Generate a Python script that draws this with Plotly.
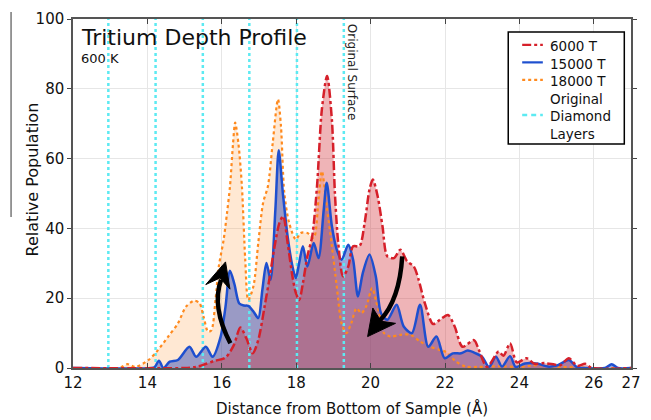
import plotly.graph_objects as go

# ---------------- data ----------------
red_x = [12.0, 15.0, 15.3, 15.53, 15.79, 16.10, 16.32, 16.50, 16.66, 16.83, 16.98, 17.15, 17.29, 17.42,
         17.55, 17.65, 17.77, 17.90, 17.99, 18.08, 18.18, 18.30, 18.43, 18.56, 18.69, 18.83, 18.96,
         19.04, 19.13, 19.26, 19.40, 19.53, 19.70, 19.84, 19.97, 20.06, 20.19, 20.32, 20.45, 20.63,
         20.80, 20.98, 21.16, 21.29, 21.46, 21.68, 21.86, 22.08, 22.26, 22.47, 22.78, 22.91, 23.13,
         23.44, 23.57, 23.75, 23.93, 24.19, 24.41, 24.67, 24.94, 25.10, 25.33, 25.55, 25.77, 25.95, 27.0]
red_y = [0, 0, 0.3, 1.0, 2.0, 3.0, 6.5, 11.6, 8.5, 4.2, 8.0, 17.6, 26.2, 34.9,
         41.6, 43.5, 35.8, 26.2, 21.5, 19.5, 24.3, 32.0, 37.7, 52.1, 74.1, 83.7, 71.0,
         50.2, 35.8, 26.2, 29.1, 34.9, 34.9, 41.6, 51.1, 54.0, 49.2, 40.6, 32.0, 31.5,
         33.9, 30.6, 29.1, 25.3, 18.5, 12.6, 13.8, 15.2, 11.9, 6.1, 8.0, 5.2, 0.3,
         4.7, 3.5, 7.1, 1.6, 2.8, 1.2, 1.4, 1.0, 0.8, 2.8, 0.6, 1.2, 0, 0]

blue_x = [12.0, 14.1, 14.2, 14.31, 14.43, 14.60, 14.82, 15.13, 15.31, 15.57, 15.75, 15.97, 16.10, 16.22,
          16.34, 16.47, 16.60, 16.71, 16.85, 16.98, 17.09, 17.20, 17.31, 17.44, 17.53, 17.64, 17.77,
          17.90, 17.99, 18.08, 18.18, 18.30, 18.47, 18.60, 18.74, 18.82, 18.96, 19.09, 19.22, 19.40,
          19.53, 19.66, 19.79, 19.97, 20.14, 20.28, 20.45, 20.70, 20.89, 21.11, 21.33, 21.55, 21.77,
          21.99, 22.21, 22.43, 22.61, 22.83, 23.00, 23.18, 23.37, 23.53, 23.75, 23.90, 24.15, 24.50,
          24.76, 25.03, 25.33, 25.55, 25.80, 26.30, 26.48, 26.65, 27.0]
blue_y = [0, 0, 0.3, 2.1, 0, 1.8, 2.3, 6.1, 3.2, 6.1, 3.2, 9.0, 17.6, 27.9,
          24.0, 18.5, 17.9, 17.8, 16.2, 14.3, 22.4, 30.1, 25.3, 45.4, 62.4, 50.2, 37.7,
          29.1, 25.8, 30.1, 34.9, 29.1, 35.8, 31.5, 45.4, 53.1, 40.6, 33.9, 31.0, 35.3,
          31.0, 20.5, 27.2, 32.5, 26.2, 15.7, 13.8, 18.1, 11.9, 10.0, 18.1, 6.1, 9.0,
          2.8, 4.2, 4.2, 5.0, 4.2, 3.2, 0.3, 3.2, 0.4, 3.4, 0.3, 1.3, 1.2,
          0.4, 0.8, 2.3, 0.2, 0, 0, 1.1, 0, 0]

orange_x = [12.0, 13.25, 13.46, 13.68, 14.03, 14.25, 14.56, 14.82, 15.04, 15.26, 15.40, 15.51, 15.63,
            15.72, 15.83, 15.92, 16.05, 16.14, 16.22, 16.30, 16.36, 16.45, 16.54, 16.63, 16.71, 16.85,
            16.98, 17.11, 17.24, 17.37, 17.51, 17.59, 17.68, 17.81, 17.99, 18.12, 18.30, 18.47, 18.60,
            18.69, 18.82, 18.96, 19.09, 19.22, 19.35, 19.48, 19.62, 19.75, 19.88, 20.04, 20.14, 20.23,
            20.36, 20.54, 20.80, 21.07, 21.33, 21.60, 21.86, 22.04, 22.30, 22.56, 22.9, 23.5, 24.0,
            24.5, 25.0, 25.5, 26.0, 27.0]
orange_y = [0, 0, 1.1, 0.3, 2.3, 4.7, 9.0, 12.8, 17.6, 19.3, 18.6, 14.7, 10.4,
            10.8, 19.5, 29.1, 36.8, 44.4, 52.0, 64.0, 70.3, 64.0, 52.1, 31.0, 19.5, 23.4,
            35.8, 47.3, 52.1, 64.6, 77.0, 69.3, 50.2, 41.6, 36.8, 38.7, 38.7, 37.3, 48.3,
            56.4, 46.4, 34.9, 23.4, 12.8, 10.0, 12.8, 17.1, 15.7, 17.6, 22.9, 19.5, 15.7,
            10.0, 9.0, 9.5, 9.5, 7.6, 6.1, 5.2, 4.5, 1.8, 0.4, 0.3, 0.5, 0.3,
            0.8, 0.3, 0.2, 0, 0]

diamond_layers = [12.95, 14.22, 15.49, 16.74, 18.02, 19.28]
original_surface = 19.28

x_ticks = [12, 14, 16, 18, 20, 22, 24, 26, 27]
y_ticks = [0, 20, 40, 60, 80, 100]

series_names = ["6000 T", "15000 T", "18000 T"]
series_x = [red_x, blue_x, orange_x]
series_y = [red_y, blue_y, orange_y]
line_colors = ["#D6202A", "#1E4FCF", "#FF8A1E"]
fill_colors = ["rgba(210,40,50,0.35)", "rgba(30,60,180,0.45)", "rgba(255,165,80,0.25)"]
dashes = ["dashdot", "solid", "dot"]
widths = [2.5, 2.5, 2.2]
layers_name = "Original<br>Diamond<br>Layers"
cyan = "#5DEAF2"

FONT = "DejaVu Sans"
fig = go.Figure()

# fills first (orange, blue, red)
for i in [2, 1, 0]:
    fig.add_trace(go.Scatter(x=series_x[i], y=series_y[i], mode="lines", fill="tozeroy",
                             fillcolor=fill_colors[i],
                             line=dict(width=0, shape="spline", smoothing=0.8),
                             showlegend=False, hoverinfo="skip"))

# cyan diamond-layer lines
lx, ly = [], []
for d in diamond_layers:
    lx += [d, d, None]
    ly += [0, 100, None]
fig.add_trace(go.Scatter(x=lx, y=ly, mode="lines", name=layers_name, showlegend=False,
                         line=dict(color=cyan, width=2.5, dash="3px,3px")))

# series lines
for i in [2, 1, 0]:
    fig.add_trace(go.Scatter(x=series_x[i], y=series_y[i], mode="lines", name=series_names[i],
                             showlegend=False,
                             line=dict(color=line_colors[i], width=widths[i], dash=dashes[i],
                                       shape="spline", smoothing=0.8)))

# curved arrows
shaft_style = dict(type="path", xref="x", yref="y", line=dict(color="black", width=4.5))
head_style = dict(type="path", xref="x", yref="y", fillcolor="black", line=dict(color="black", width=1))
fig.add_shape(path="M 16.23,7.1 Q 15.72,17.5 15.98,25.3", **shaft_style)
fig.add_shape(path="M 16.10,30.4 L 15.57,23.9 L 15.95,25.8 L 16.22,22.6 Z", **head_style)
fig.add_shape(path="M 20.85,32.0 Q 20.78,19.5 20.25,13.6", **shaft_style)
fig.add_shape(path="M 19.92,9.0 L 20.06,17.2 L 20.28,13.4 L 20.67,12.8 Z", **head_style)

# stray frame line at far left
fig.add_shape(type="line", xref="paper", yref="paper", x0=-0.111, x1=-0.111, y0=0.433, y1=1.02,
              line=dict(color="#777777", width=1.5))

# ---- hand-made legend (box, samples, one multi-line label block) ----
fig.add_shape(type="rect", xref="paper", yref="paper", x0=0.780, x1=0.988, y0=0.642, y1=0.963,
              fillcolor="white", line=dict(color="black", width=1.5), layer="above")
LEG_FS = 13.5
row_step = 1.3 * LEG_FS / 349.0          # one text line in paper units
first_row = 0.926
for i in range(3):
    yy = first_row - i * row_step
    fig.add_shape(type="line", xref="paper", yref="paper", x0=0.805, x1=0.842, y0=yy, y1=yy,
                  layer="above", line=dict(color=line_colors[i], width=2.2, dash=dashes[i]))
yy = first_row - 4 * row_step
fig.add_shape(type="line", xref="paper", yref="paper", x0=0.805, x1=0.842, y0=yy, y1=yy,
              layer="above", line=dict(color=cyan, width=2.5, dash="5px,4px"))
legend_text = "<br>".join(series_names + layers_name.split("<br>"))
fig.add_annotation(text=legend_text, xref="paper", yref="paper", x=0.852,
                   y=first_row + 0.5 * row_step, xanchor="left", yanchor="top", align="left",
                   showarrow=False, font=dict(family=FONT, size=LEG_FS, color="#111"))

fig.add_annotation(text="Tritium Depth Profile", xref="paper", yref="paper", x=0.010, y=0.948,
                   xanchor="left", yanchor="middle", showarrow=False,
                   font=dict(family=FONT, size=22, color="#111"))
fig.add_annotation(text="600 K", xref="paper", yref="paper", x=0.010, y=0.886,
                   xanchor="left", yanchor="middle", showarrow=False,
                   font=dict(family=FONT, size=13, color="#111"))
fig.add_annotation(text="Original Surface", xref="x", yref="paper", x=original_surface, xshift=9,
                   y=0.991, yanchor="top", textangle=90, showarrow=False,
                   font=dict(family=FONT, size=12, color="#222"))
fig.add_annotation(text="Relative Population", xref="paper", yref="paper", x=0, xshift=-52,
                   y=0.539, yanchor="middle", textangle=-90, showarrow=False,
                   font=dict(family=FONT, size=16, color="#111"))
fig.add_annotation(text="Distance from Bottom of Sample (Å)", xref="paper", yref="paper", x=0.5,
                   y=-0.115, yanchor="middle", showarrow=False,
                   font=dict(family=FONT, size=15, color="#111"))

fig.update_layout(
    width=651, height=420, margin=dict(l=73, r=10, t=19, b=52),
    paper_bgcolor="white", plot_bgcolor="white",
    font=dict(family=FONT, size=15, color="#111"),
    showlegend=False,
    xaxis=dict(range=[12, 27], tickvals=x_ticks, ticktext=[str(t) for t in x_ticks],
               showgrid=True, gridcolor="#E6E6E6", gridwidth=1, zeroline=False,
               showline=True, linecolor="#555", linewidth=1.5, mirror="ticks",
               ticks="inside", ticklen=5, tickcolor="#444", tickfont=dict(size=15)),
    yaxis=dict(range=[0, 100], tickvals=y_ticks, showgrid=True, gridcolor="#E6E6E6", gridwidth=1,
               zeroline=False, showline=True, linecolor="#555", linewidth=1.5, mirror="ticks",
               ticks="outside", ticklen=4, tickcolor="#444", tickfont=dict(size=15)),
)

fig.write_html("out.html")
